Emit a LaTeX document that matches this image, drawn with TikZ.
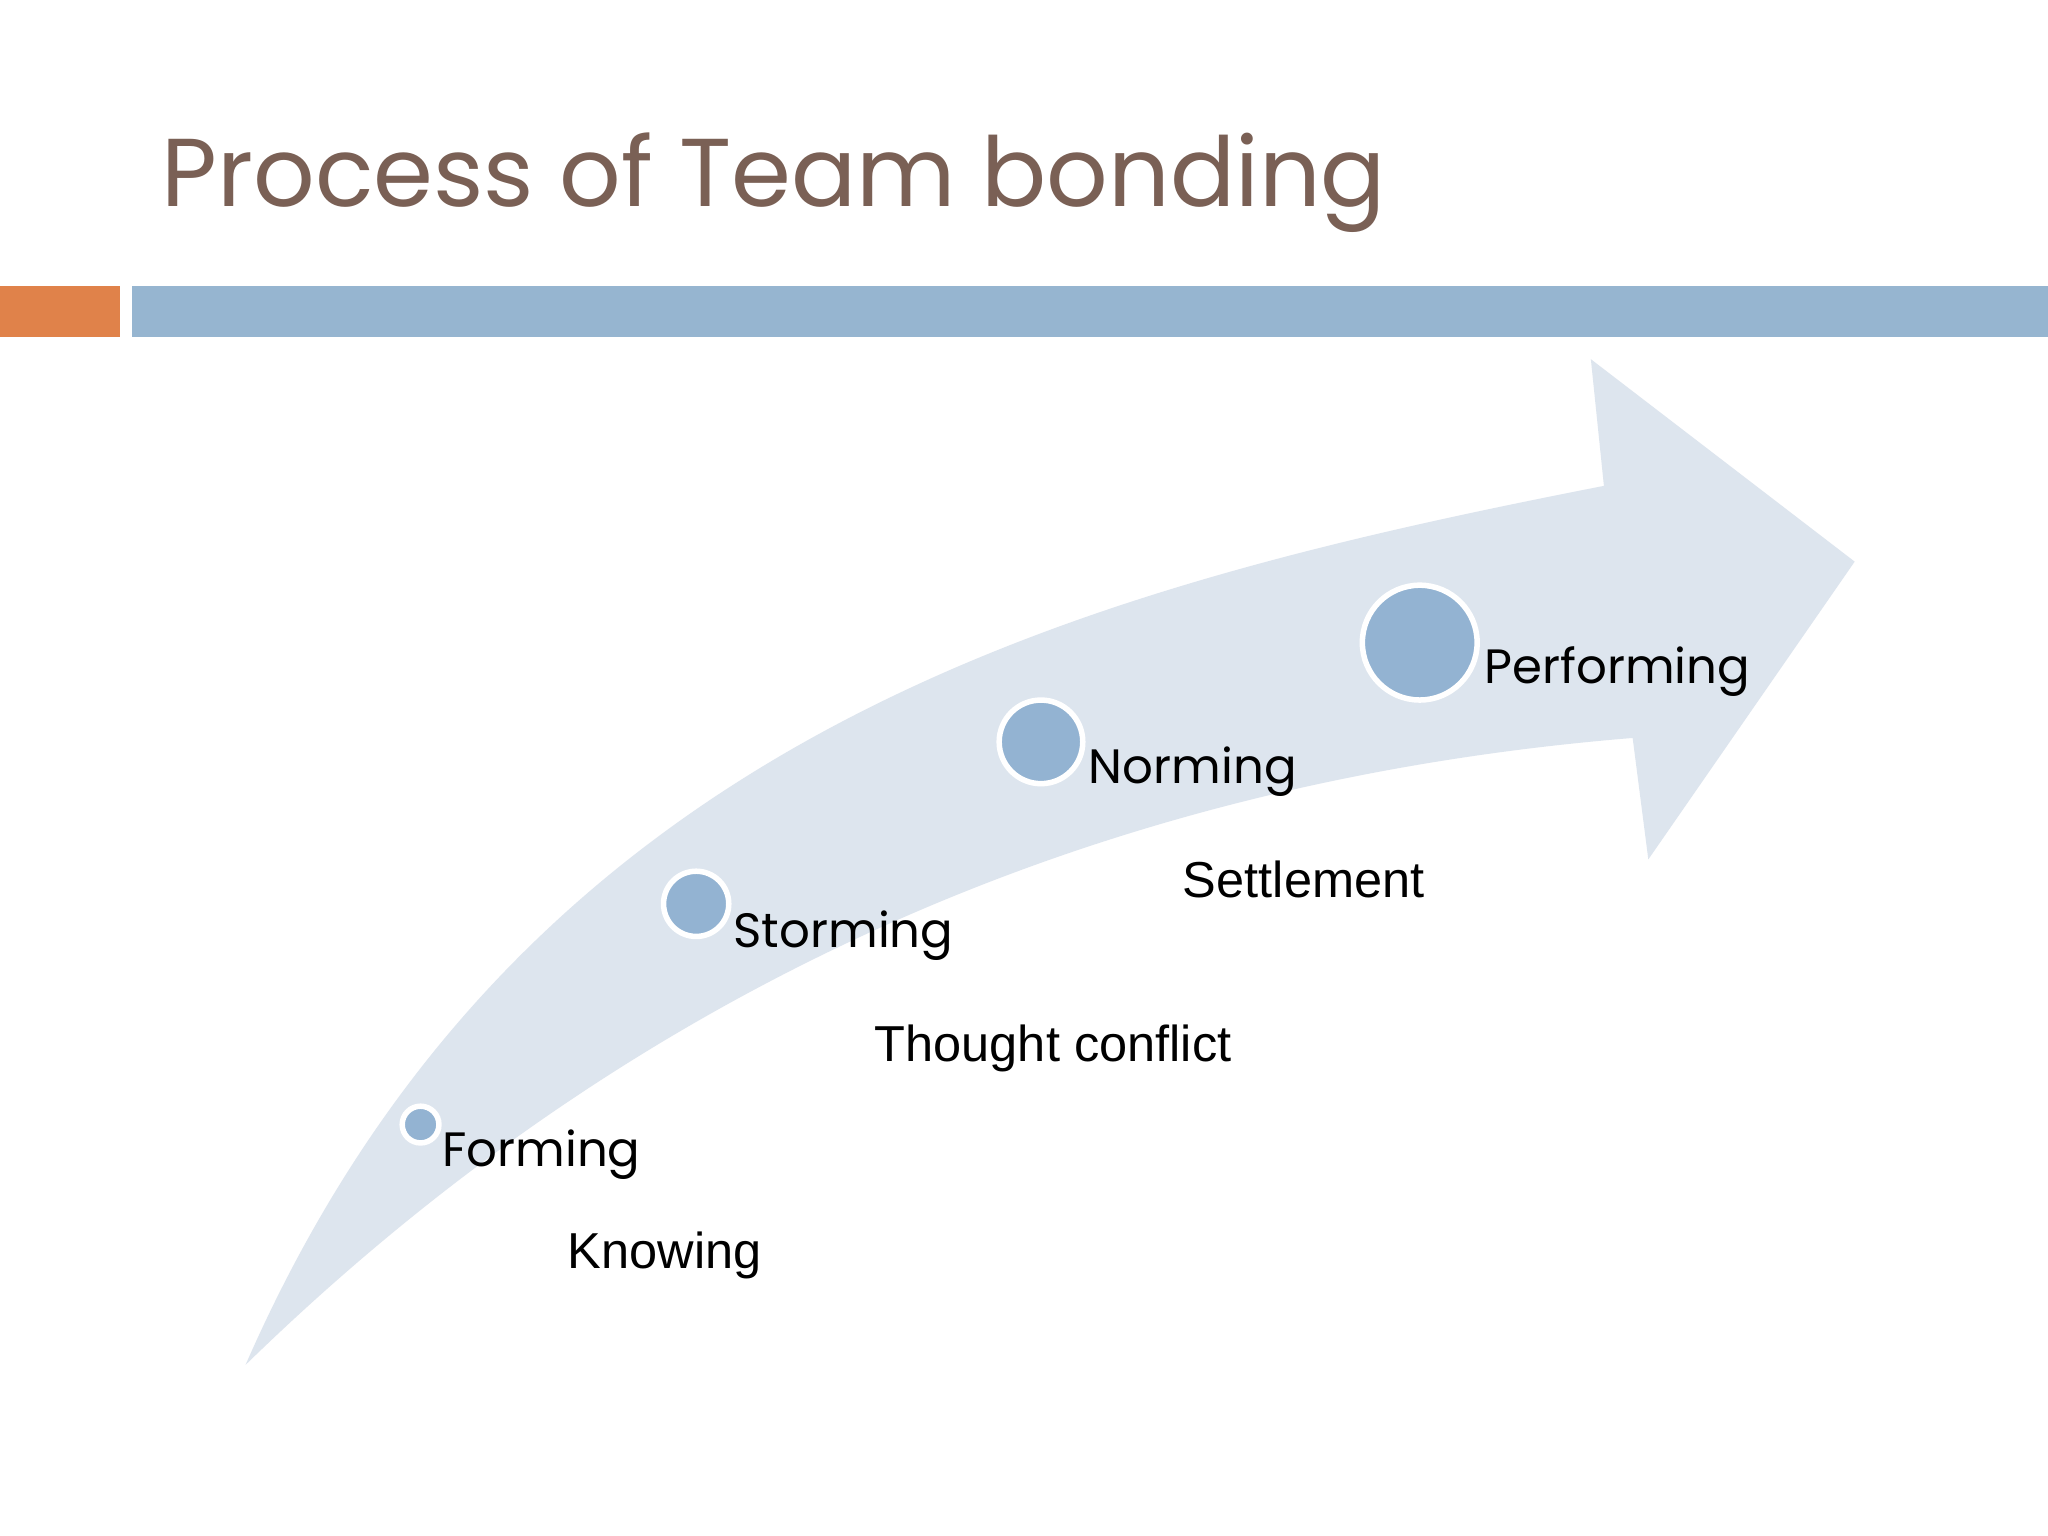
\documentclass[tikz,border=0pt]{standalone}
\usepackage{fontspec}
\setmainfont{Liberation Sans}
\newfontfamily\geo{Poppins}
\definecolor{titlec}{HTML}{7A6055}
\definecolor{barblue}{HTML}{96B5D0}
\definecolor{barorange}{HTML}{E0824A}
\definecolor{arrowc}{HTML}{DDE5EE}
\definecolor{dotc}{HTML}{93B3D2}
\begin{document}
\begin{tikzpicture}[x=0.01cm,y=-0.01cm,
  dot/.style={circle,fill=dotc,draw=white,line width=1.2pt,inner sep=0pt},
  stage/.style={font=\geo\fontsize{10.5}{13}\selectfont,anchor=west,text=black,inner sep=0pt},
  desc/.style={font=\fontsize{11}{13}\selectfont,anchor=west,text=black,inner sep=0pt}]
\useasboundingbox (0,0) rectangle (1568,1176);
\fill[white] (0,0) rectangle (1568,1176);
\node[anchor=base west,text=titlec,font=\geo\fontsize{21}{24}\selectfont,inner sep=0] (title) at (123,158) {Process of Team bonding};
\fill[barorange] (0,219) rectangle (92,258);
\fill[barblue] (101,219) rectangle (1568,258);
\fill[arrowc] (188,1045) .. controls (400,560) and (830,450) .. (1228,372)
  -- (1218,275) -- (1420,430) -- (1262,658) -- (1250,565)
  .. controls (820,600) and (470,770) .. (188,1045) -- cycle;
\node[dot,minimum size=8pt] (f) at (322,861) {};
\node[dot,minimum size=14.2pt] (s) at (533,692) {};
\node[dot,minimum size=18.2pt] (n) at (797,568) {};
\node[dot,minimum size=25pt] (p) at (1087,492) {};
\node[stage] (fl) at (338,884) {Forming};
\node[stage] (sl) at (561,716) {Storming};
\node[stage] (nl) at (833,591) {Norming};
\node[stage] (pl) at (1136,514) {Performing};
\node[desc] (kn) at (434,961) {Knowing};
\node[desc] (tc) at (669,803) {Thought conflict};
\node[desc] (se) at (905,673) {Settlement};
\end{tikzpicture}
\end{document}
